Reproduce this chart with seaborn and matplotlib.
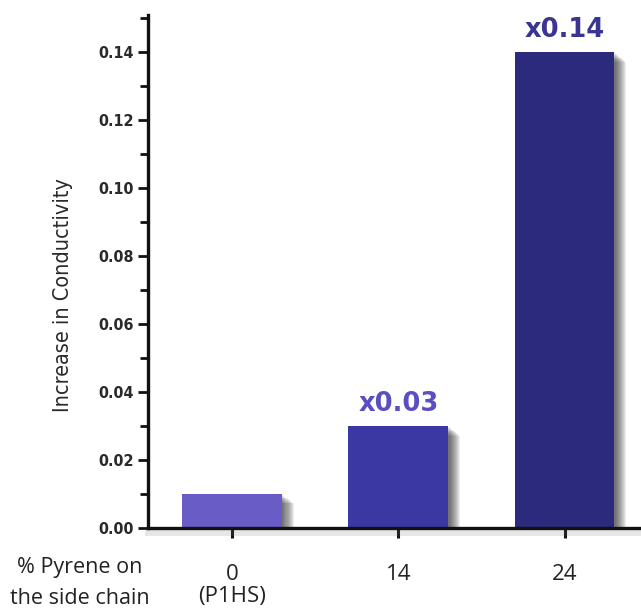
import matplotlib
matplotlib.use("Agg")
import matplotlib.pyplot as plt
import matplotlib.patheffects as pe
from matplotlib.ticker import MultipleLocator, FormatStrFormatter
import numpy as np
import pandas as pd
import seaborn as sns

# Data
pyrene_pct = ["0", "14", "24"]
tick_labels = ["0\n(P1HS)", "14", "24"]
conductivity_increase = [0.01, 0.03, 0.14]
value_labels = ["", "x0.03", "x0.14"]
bar_colors = ["#6a5cc6", "#3b37a3", "#2c2a7c"]
label_colors = ["#6a5cc6", "#5a4fc2", "#3b3592"]

df = pd.DataFrame({"pyrene": pyrene_pct, "increase": conductivity_increase})

sns.set_theme(style="white")
plt.rcParams["font.family"] = ["DejaVu Sans"]

fig = plt.figure(figsize=(6.41, 6.13), dpi=100)
ax = fig.add_axes([148 / 641, 85 / 613, 1 - 148 / 641, (528 - 15) / 613])

sns.barplot(data=df, x="pyrene", y="increase", hue="pyrene",
            palette=bar_colors, order=pyrene_pct, hue_order=pyrene_pct,
            width=0.6, legend=False, ax=ax, saturation=1)

# soft drop shadows behind the bars (stacked layers give a blurred edge)
shadow = [pe.SimplePatchShadow(offset=(o, -o * 0.8), shadow_rgbFace="#1a1a1a", alpha=0.08)
          for o in np.arange(8.5, 0.5, -0.75)] + [pe.Normal()]
for p in ax.patches:
    p.set_edgecolor("none")
    p.set_path_effects(shadow)

# value annotations above the bars
for i, (v, lab) in enumerate(zip(conductivity_increase, value_labels)):
    if lab:
        ax.text(i, v + 0.0027, lab, ha="center", va="bottom",
                fontsize=18.5, fontweight="bold", color=label_colors[i])

ax.set_xlim(-0.506, 2.46)
ax.set_ylim(0, 0.151)
ax.yaxis.set_major_locator(MultipleLocator(0.02))
ax.yaxis.set_minor_locator(MultipleLocator(0.01))
ax.yaxis.set_major_formatter(FormatStrFormatter("%.2f"))

for side in ["top", "right"]:
    ax.spines[side].set_visible(False)
for side in ["left", "bottom"]:
    ax.spines[side].set_color("#111111")
    ax.spines[side].set_linewidth(2.4)
ax.spines["bottom"].set_path_effects(
    [pe.SimpleLineShadow(offset=(0, -3), shadow_color="#777777", alpha=0.18, linewidth=5),
     pe.Normal()])

ax.tick_params(axis="y", which="major", direction="out", length=7, width=2,
               color="#111111", left=True, labelsize=11.5, pad=3)
ax.tick_params(axis="y", which="minor", direction="out", length=6, width=2,
               color="#111111", left=True)
ax.tick_params(axis="x", direction="out", length=7, width=2.2, color="#111111",
               bottom=True, labelsize=16, pad=19)
for t in ax.get_yticklabels():
    t.set_fontstretch("condensed")
    t.set_fontweight("semibold")
    t.set_color("#2a2a2a")
ax.set_xticks(range(len(tick_labels)))
ax.set_xticklabels(tick_labels, family=["Open Sans", "DejaVu Sans"], color="#222222",
                   linespacing=1.05, va="top")

ax.set_xlabel("")
ax.set_ylabel("Increase in Conductivity", fontsize=15.5, color="#2a2a2a",
              fontstretch="condensed")
ax.yaxis.set_label_coords(-0.152, 0.455)

fig.text(80 / 641, 1 - 583 / 613, "% Pyrene on\nthe side chain", ha="center",
         va="center", fontsize=15.5, color="#222222", linespacing=1.6,
         family=["Open Sans", "DejaVu Sans"])

fig.savefig("out.png", dpi=100)
